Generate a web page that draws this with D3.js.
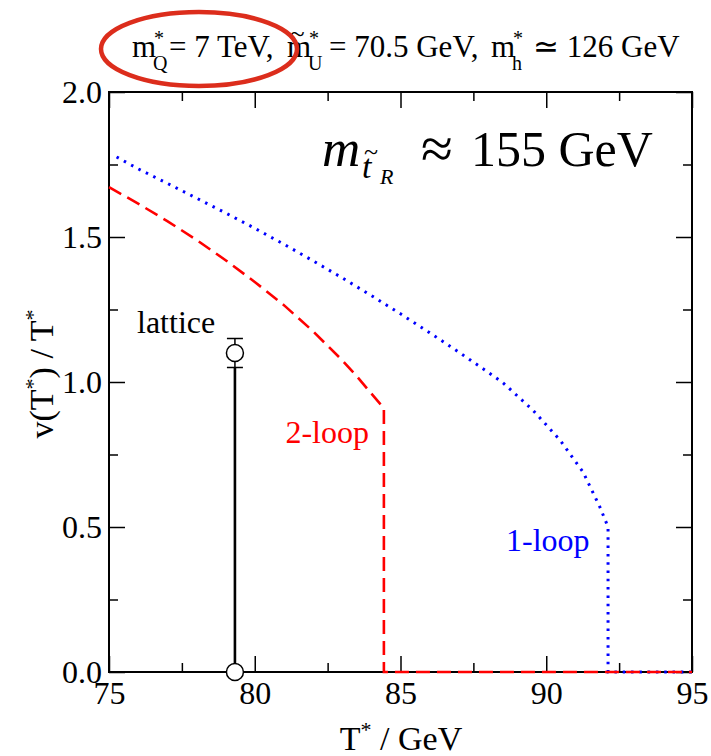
<!DOCTYPE html>
<html>
<head>
<meta charset="utf-8">
<script src="https://cdn.jsdelivr.net/npm/d3@7"></script>
<style>
  body { margin: 0; background: #fff; }
</style>
</head>
<body>
<script>
// data
const xTicks = [75, 80, 85, 90, 95];
const yTicks = [0.0, 0.5, 1.0, 1.5, 2.0];
const xMinor = [77.5, 82.5, 87.5, 92.5];
const yMinor = [0.25, 0.75, 1.25, 1.75];

// 2-loop (red dashed)
const loop2T = [75.0, 76.0, 77.0, 78.0, 79.0, 80.0, 81.0, 82.0, 83.0, 83.5, 84.0, 84.43, 84.43, 95.0];
const loop2V = [1.672, 1.615, 1.555, 1.49, 1.42, 1.345, 1.265, 1.175, 1.075, 1.02, 0.96, 0.91, 0.0, 0.0];

// 1-loop (blue dotted)
const loop1T = [75.26, 76.0, 77.0, 78.0, 79.0, 80.0, 81.0, 82.0, 83.0, 84.0, 85.0, 86.0, 87.0, 88.0, 88.52, 89.54, 90.47, 91.26, 91.84, 92.12, 92.12, 95.0];
const loop1V = [1.776, 1.735, 1.685, 1.634, 1.583, 1.53, 1.475, 1.418, 1.359, 1.298, 1.235, 1.17, 1.103, 1.034, 0.997, 0.903, 0.8, 0.69, 0.569, 0.5, 0.0, 0.0];

// lattice points
const latticeT = [79.32, 79.32];
const latticeV = [1.1, 0.0];
const latticeErr = [0.05, 0.0];

const FONT = '"Liberation Serif", "Times New Roman", serif';
const width = 711, height = 756;
const margin = { top: 92, bottom: 84, left: 109, right: 19 };

let svg = d3.select('body').append('svg')
            .attr('width', width).attr('height', height)
            .style('font-family', FONT);

const xscale = d3.scaleLinear().domain([75, 95]).range([margin.left, width - margin.right]);
const yscale = d3.scaleLinear().domain([0, 2]).range([height - margin.bottom, margin.top]);

const x0 = margin.left, x1 = width - margin.right;
const y0 = height - margin.bottom, y1 = margin.top;

// axes, ticks pointing inward on all four sides
function styleAxis(g) {
  g.attr('font-family', null).attr('font-size', null);
  g.select('.domain').remove();
  g.selectAll('line').attr('stroke', '#000').attr('stroke-width', 1.5);
  g.selectAll('text').attr('fill', '#000').style('font-family', FONT).style('font-size', '32px');
}
svg.append('g').attr('transform', `translate(0,${y0})`)
  .call(d3.axisBottom(xscale).tickValues(xTicks).tickSize(-16).tickPadding(9).tickFormat(d3.format('d')))
  .call(styleAxis);
svg.append('g').attr('transform', `translate(0,${y0})`)
  .call(d3.axisBottom(xscale).tickValues(xMinor).tickSize(-9).tickFormat(''))
  .call(styleAxis);
svg.append('g').attr('transform', `translate(0,${y1})`)
  .call(d3.axisTop(xscale).tickValues(xTicks).tickSize(-16).tickFormat(''))
  .call(styleAxis);
svg.append('g').attr('transform', `translate(0,${y1})`)
  .call(d3.axisTop(xscale).tickValues(xMinor).tickSize(-9).tickFormat(''))
  .call(styleAxis);

svg.append('g').attr('transform', `translate(${x0},0)`)
  .call(d3.axisLeft(yscale).tickValues(yTicks).tickSize(-16).tickPadding(7).tickFormat(d3.format('.1f')))
  .call(styleAxis);
svg.append('g').attr('transform', `translate(${x0},0)`)
  .call(d3.axisLeft(yscale).tickValues(yMinor).tickSize(-9).tickFormat(''))
  .call(styleAxis);
svg.append('g').attr('transform', `translate(${x1},0)`)
  .call(d3.axisRight(yscale).tickValues(yTicks).tickSize(-16).tickFormat(''))
  .call(styleAxis);
svg.append('g').attr('transform', `translate(${x1},0)`)
  .call(d3.axisRight(yscale).tickValues(yMinor).tickSize(-9).tickFormat(''))
  .call(styleAxis);

// frame
svg.append('rect')
  .attr('x', x0).attr('y', y1).attr('width', x1 - x0).attr('height', y0 - y1)
  .attr('fill', 'none').attr('stroke', '#000').attr('stroke-width', 2);

// curves
const line = d3.line().x(d => xscale(d[0])).y(d => yscale(d[1]));

svg.append('path')
  .datum(d3.zip(loop1T, loop1V))
  .attr('d', line)
  .attr('fill', 'none').attr('stroke', '#0000ff').attr('stroke-width', 3)
  .attr('stroke-dasharray', '2.5,5.8');

svg.append('path')
  .datum(d3.zip(loop2T, loop2V))
  .attr('d', line)
  .attr('fill', 'none').attr('stroke', '#ff0000').attr('stroke-width', 2.6)
  .attr('stroke-dasharray', '14,7');

// lattice: error bar, connecting line, circles
const lat = d3.zip(latticeT, latticeV, latticeErr);
svg.append('line')
  .attr('x1', xscale(lat[0][0])).attr('x2', xscale(lat[1][0]))
  .attr('y1', yscale(lat[0][1] - lat[0][2])).attr('y2', yscale(lat[1][1]))
  .attr('stroke', '#000').attr('stroke-width', 2.6);
svg.append('line')
  .attr('x1', xscale(lat[0][0])).attr('x2', xscale(lat[0][0]))
  .attr('y1', yscale(lat[0][1] + lat[0][2])).attr('y2', yscale(lat[0][1] - lat[0][2]))
  .attr('stroke', '#000').attr('stroke-width', 1.5);
[1, -1].forEach(s => {
  svg.append('line')
    .attr('x1', xscale(lat[0][0]) - 8).attr('x2', xscale(lat[0][0]) + 8)
    .attr('y1', yscale(lat[0][1] + s * lat[0][2])).attr('y2', yscale(lat[0][1] + s * lat[0][2]))
    .attr('stroke', '#000').attr('stroke-width', 1.5);
});
svg.selectAll('circle.lat')
  .data(lat)
  .enter()
  .append('circle')
  .attr('class', 'lat')
  .attr('cx', d => xscale(d[0]))
  .attr('cy', d => yscale(d[1]))
  .attr('r', 8.5)
  .attr('fill', '#fff').attr('stroke', '#000').attr('stroke-width', 1.5);

// labels in the plot
svg.append('text').attr('x', 137).attr('y', 333).attr('font-size', 32).text('lattice');
svg.append('text').attr('x', 369).attr('y', 443).attr('font-size', 32)
  .attr('text-anchor', 'end').attr('fill', '#ff0000').text('2-loop');
svg.append('text').attr('x', 506).attr('y', 551).attr('font-size', 32)
  .attr('fill', '#0000ff').text('1-loop');

// m_{t~R} ≈ 155 GeV, one text element with placed pieces
const big = svg.append('text').attr('font-size', 50);
big.append('tspan').attr('x', 322).attr('y', 166).attr('font-size', 53).attr('font-style', 'italic').text('m');
big.append('tspan').attr('x', 362).attr('y', 178).attr('font-size', 34).attr('font-style', 'italic').text('t');
big.append('tspan').attr('x', 364).attr('y', 160).attr('font-size', 26).text('~');
big.append('tspan').attr('x', 380).attr('y', 184).attr('font-size', 22).attr('font-style', 'italic').text('R');
big.append('tspan').attr('x', 421).attr('y', 168).attr('font-size', 58).text('≈');
big.append('tspan').attr('x', 471).attr('y', 166).text('155 GeV');

// title, one text element with placed pieces
const ty = 57;
const title = svg.append('text').attr('font-size', 31);
function sym(x, base, sup, sub, tilde) {
  title.append('tspan').attr('x', x).attr('y', ty).text(base);
  if (tilde) title.append('tspan').attr('x', x + 3).attr('y', ty - 14).attr('font-size', 27).text('~');
  title.append('tspan').attr('x', x + 22).attr('y', ty - 12).attr('font-size', 20).text(sup);
  title.append('tspan').attr('x', x + 21).attr('y', ty + 13).attr('font-size', 20).text(sub);
}
sym(132, 'm', '*', 'Q', false);
title.append('tspan').attr('x', 169).attr('y', ty).text('= 7 TeV,');
sym(287, 'm', '*', 'U', true);
title.append('tspan').attr('x', 329).attr('y', ty).text('= 70.5 GeV,');
sym(491, 'm', '*', 'h', false);
title.append('tspan').attr('x', 533).attr('y', ty).text('≃ 126 GeV');

// red annotation ellipse
svg.append('ellipse')
  .attr('cx', 199).attr('cy', 49).attr('rx', 98).attr('ry', 37)
  .attr('fill', 'none').attr('stroke', '#dc2d1c').attr('stroke-width', 4.5);

// axis titles
const yt = svg.append('text')
  .attr('transform', 'translate(53,374) rotate(-90)')
  .attr('text-anchor', 'middle').attr('font-size', 34);
yt.append('tspan').text('v(T');
yt.append('tspan').attr('font-size', 22).attr('dy', -13).text('*');
yt.append('tspan').attr('dy', 13).text(') / T');
yt.append('tspan').attr('font-size', 22).attr('dy', -13).text('*');

const xt = svg.append('text')
  .attr('x', 401).attr('y', 750)
  .attr('text-anchor', 'middle').attr('font-size', 34);
xt.append('tspan').text('T');
xt.append('tspan').attr('font-size', 22).attr('dy', -13).text('*');
xt.append('tspan').attr('dy', 13).text(' / GeV');
</script>
</body>
</html>
